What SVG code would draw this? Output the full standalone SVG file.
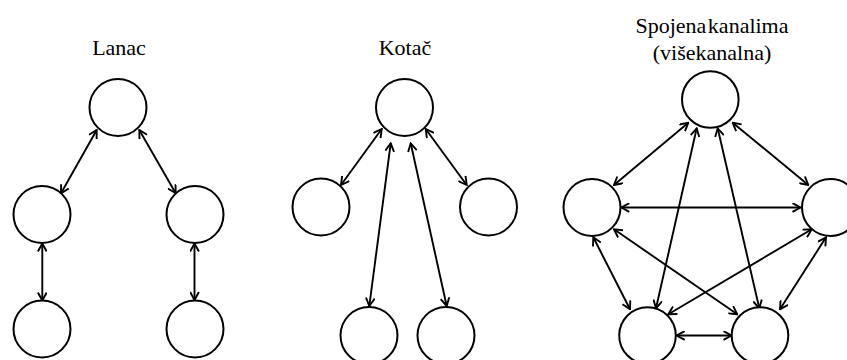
<svg xmlns="http://www.w3.org/2000/svg" width="847" height="360" viewBox="0 0 847 360">
<style>
.n{fill:#fff;stroke:#000;stroke-width:2}
.t{font-family:"Times New Roman","Liberation Serif",Tinos,"Noto Serif","DejaVu Serif",FreeSerif,serif;font-size:22px;fill:#000;text-anchor:middle}
.e{stroke:#000;stroke-width:1.9;fill:none;marker-start:url(#a);marker-end:url(#a)}
</style>
<defs>
<marker id="a" viewBox="0 0 10 10" refX="9" refY="5" markerWidth="10" markerHeight="10" markerUnits="userSpaceOnUse" orient="auto-start-reverse">
<path d="M1,0.6 L9,5 L1,9.4" fill="none" stroke="#000" stroke-width="1.9"/>
</marker>
</defs>
<rect width="847" height="360" fill="#fff"/>
<g id="titles">
<text class="t" x="119" y="55">Lanac</text>
<text class="t" x="405" y="55">Kotač</text>
<text class="t" x="712" y="33" word-spacing="-4">Spojena kanalima</text>
<text class="t" x="712" y="60">(višekanalna)</text>
</g>
<g id="connectors">
<line class="e" x1="96.7" y1="130" x2="61" y2="193.3"/>
<line class="e" x1="139.3" y1="130" x2="175.7" y2="193.3"/>
<line class="e" x1="42.3" y1="243.5" x2="42.3" y2="300.5"/>
<line class="e" x1="194.5" y1="243.5" x2="194.5" y2="300"/>
<line class="e" x1="381.7" y1="129" x2="341" y2="185"/>
<line class="e" x1="425.7" y1="129" x2="466.7" y2="185"/>
<line class="e" x1="390.7" y1="143.3" x2="369.3" y2="306"/>
<line class="e" x1="410.7" y1="143.3" x2="446.7" y2="306"/>
<line class="e" x1="688.3" y1="122.7" x2="614" y2="185"/>
<line class="e" x1="732.7" y1="122.7" x2="808.3" y2="185"/>
<line class="e" x1="621.3" y1="207.5" x2="800.5" y2="207.5"/>
<line class="e" x1="696.7" y1="128.3" x2="656" y2="308.3"/>
<line class="e" x1="717.7" y1="128.3" x2="759.3" y2="308.3"/>
<line class="e" x1="614" y1="229.3" x2="737.3" y2="314.3"/>
<line class="e" x1="811.7" y1="229.3" x2="668.3" y2="314.3"/>
<line class="e" x1="593.3" y1="237.3" x2="630" y2="309.3"/>
<line class="e" x1="826" y1="237.3" x2="780" y2="309.3"/>
<line class="e" x1="676.7" y1="335.5" x2="731.5" y2="335.5"/>
</g>
<g id="lanac-top"><circle class="n" cx="118" cy="107.5" r="28.5"/></g>
<g id="lanac-left"><circle class="n" cx="42" cy="214.5" r="28.5"/></g>
<g id="lanac-right"><circle class="n" cx="195" cy="214.5" r="28.5"/></g>
<g id="lanac-bottom-left"><circle class="n" cx="42" cy="329" r="28.5"/></g>
<g id="lanac-bottom-right"><circle class="n" cx="195" cy="329" r="28.5"/></g>
<g id="kotac-top"><circle class="n" cx="404.5" cy="107.5" r="28.5"/></g>
<g id="kotac-left"><circle class="n" cx="321" cy="207" r="28.5"/></g>
<g id="kotac-right"><circle class="n" cx="488.5" cy="207" r="28.5"/></g>
<g id="kotac-bottom-left"><circle class="n" cx="369" cy="335.5" r="28.5"/></g>
<g id="kotac-bottom-right"><circle class="n" cx="446" cy="335.5" r="28.5"/></g>
<g id="sk-top"><circle class="n" cx="710.3" cy="99.5" r="28.3"/></g>
<g id="sk-left"><circle class="n" cx="592" cy="207.5" r="28.5"/></g>
<g id="sk-right"><circle class="n" cx="830.5" cy="207.5" r="28.5"/></g>
<g id="sk-bottom-left"><circle class="n" cx="647.5" cy="335.5" r="28.3"/></g>
<g id="sk-bottom-right"><circle class="n" cx="760" cy="335.5" r="28.3"/></g>
</svg>
